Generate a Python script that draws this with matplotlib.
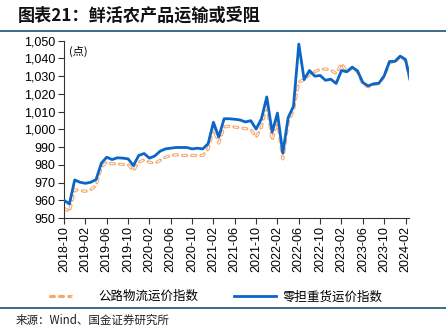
import numpy as np
import pandas as pd
import matplotlib
matplotlib.use('Agg')
import matplotlib.pyplot as plt
from matplotlib.legend_handler import HandlerTuple

plt.rcParams['font.family'] = ['Liberation Sans', 'Noto Sans CJK SC']
plt.rcParams['lines.scale_dashes'] = False

# Monthly index values, 2018-10 .. 2024-03
months = pd.date_range('2018-10-01', periods=66, freq='MS')
month_labels = [d.strftime('%Y-%m') for d in months]

ltl_index = [
    960.0, 958.0, 971.5, 970.2, 969.6, 970.2, 971.7, 981.0, 984.3, 983.0,
    984.0, 983.8, 983.4, 979.6, 985.3, 986.4, 983.8, 985.0, 987.7, 989.0,
    989.4, 989.8, 989.8, 989.8, 989.0, 989.4, 989.0, 991.9, 1004.0, 995.7,
    1006.0, 1006.0, 1005.7, 1005.3, 1004.2, 1004.9, 1000.2, 1006.0, 1018.3, 998.5,
    1009.2, 986.6, 1006.6, 1013.0, 1048.1, 1028.1, 1033.2, 1030.0, 1030.4, 1027.7,
    1028.3, 1025.9, 1033.2, 1032.5, 1035.1, 1033.0, 1026.4, 1024.5, 1025.7, 1026.0,
    1030.2, 1038.3, 1038.3, 1041.3, 1039.4, 1026.2,
]
road_index = [
    955.5, 953.6, 966.0, 965.5, 965.1, 966.0, 968.3, 978.7, 981.5, 980.6,
    980.6, 980.2, 980.2, 976.8, 981.5, 982.8, 981.5, 980.9, 982.5, 984.3,
    985.3, 985.7, 985.3, 985.3, 985.3, 985.3, 985.3, 989.0, 1000.4, 992.3,
    1001.3, 1001.9, 1001.3, 1000.9, 1000.4, 1000.0, 995.7, 1001.3, 1014.5, 993.8,
    1005.1, 983.4, 1004.2, 1010.8, 1026.8, 1028.0, 1031.0, 1032.5, 1034.0, 1034.0,
    1033.5, 1031.5, 1037.0, 1032.5, 1034.6, 1032.5, 1025.6, 1024.0, 1025.3, 1025.7,
    1029.8, 1037.8, 1037.9, 1041.0, 1039.0, 1025.8,
]
yticks = [950, 960, 970, 980, 990, 1000, 1010, 1020, 1030, 1040, 1050]

ORANGE = '#F5A86E'
BLUE = '#0A66C8'
RULE = '#2F5F7F'

fig = plt.figure(figsize=(4.46, 3.35), dpi=100)
ax = fig.add_axes([0.1424, 0.349, 0.7746, 0.5295])

x = np.arange(len(months))
# outlined dashes: round-capped orange stroke with a thin white core
dash = (0, (2.8, 3.8))
o1, = ax.plot(x, road_index, color=ORANGE, lw=2.3, ls=dash,
              dash_capstyle='round', zorder=2)
o2, = ax.plot(x, road_index, color='white', lw=0.8, ls=dash,
              dash_capstyle='butt', zorder=2.1)
b1, = ax.plot(x, ltl_index, color=BLUE, lw=2.0, zorder=3)

ax.set_ylim(950, 1050)
ax.set_xlim(-0.1, 64.65)
ax.set_yticks(yticks)
ax.set_yticklabels([f'{v:,}' for v in yticks])
ax.set_xticks(x[::4])
ax.set_xticklabels(month_labels[::4], rotation=90)
ax.tick_params(axis='both', labelsize=9, length=4, width=0.8, color='#333333',
               direction='out', pad=2)
for side in ('top', 'right'):
    ax.spines[side].set_visible(False)
for side in ('left', 'bottom'):
    ax.spines[side].set_color('#333333')
    ax.spines[side].set_linewidth(0.8)

ax.text(0.015, 0.97, '(点)', transform=ax.transAxes, fontsize=8,
        family=['Noto Sans CJK SC'], va='top', ha='left')

fig.legend([(o1, o2), b1], ['公路物流运价指数', '零担重货运价指数'],
           handler_map={tuple: HandlerTuple(ndivide=None, pad=0)},
           loc='center', bbox_to_anchor=(0.485, 0.114), ncol=2, frameon=False,
           handlelength=3.4, handletextpad=0.5, columnspacing=2.8,
           prop={'family': ['Noto Sans CJK SC'], 'size': 9})

fig.text(0.04, 0.952, '图表21：鲜活农产品运输或受阻', fontsize=12.3, fontweight='bold',
         family=['Noto Sans CJK SC'], color='#111111', ha='left', va='center')
fig.add_artist(plt.Line2D([0, 1], [0.907, 0.907], transform=fig.transFigure,
                          color=RULE, lw=1.3))
fig.add_artist(plt.Line2D([0, 1], [0.081, 0.081], transform=fig.transFigure,
                          color=RULE, lw=1.3))
fig.text(0.036, 0.043, '来源：Wind、国金证券研究所', fontsize=8.3,
         family=['Noto Sans CJK SC'], color='#222222', ha='left', va='center')

fig.savefig('out.png', dpi=100)
